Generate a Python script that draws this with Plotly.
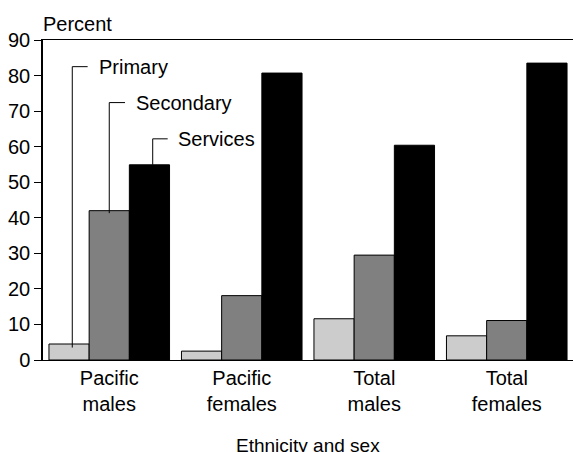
import plotly.graph_objects as go

# Share of employed people by industry sector
categories = ["Pacific<br>males", "Pacific<br>females", "Total<br>males", "Total<br>females"]
primary = [4.5, 2.5, 11.6, 6.8]
secondary = [42.0, 18.1, 29.5, 11.1]
services = [54.9, 80.7, 60.4, 83.5]
y_ticks = [0, 10, 20, 30, 40, 50, 60, 70, 80, 90]

FONT = "Liberation Sans, Arial, sans-serif"
xpos = list(range(len(categories)))

fig = go.Figure()
for name, vals, colour in [("Primary", primary, "#cccccc"),
                           ("Secondary", secondary, "#808080"),
                           ("Services", services, "#000000")]:
    fig.add_trace(go.Bar(x=xpos, y=vals, name=name,
                         marker=dict(color=colour, line=dict(color="#000000", width=1))))

# Leader lines labelling each series in the first group
callouts = [
    # (label, x of vertical leg, x end of horizontal leg, x of text, y bottom, y elbow)
    ("Primary", -0.279, -0.163, -0.095, primary[0] - 1.0, 82.5),
    ("Secondary", 0.0, 0.119, 0.189, secondary[0] - 0.7, 72.4),
    ("Services", 0.328, 0.441, 0.504, services[0], 62.2),
]
for label, xv, xh, xt, yb, ye in callouts:
    fig.add_shape(type="path", xref="x", yref="y",
                  path=f"M {xv},{yb} L {xv},{ye} L {xh},{ye}",
                  line=dict(color="#000000", width=1))
    fig.add_annotation(x=xt, y=ye, xref="x", yref="y", text=label, showarrow=False,
                       xanchor="left", yanchor="middle",
                       font=dict(family=FONT, size=20, color="#000000"))

fig.add_annotation(x=0, y=1.0, xref="paper", yref="paper", text="Percent", showarrow=False,
                   xanchor="left", yanchor="bottom", yshift=3, xshift=-2,
                   font=dict(family=FONT, size=20, color="#000000"))
fig.add_annotation(x=0.5, y=-0.268, xref="paper", yref="paper", text="Ethnicity and sex",
                   showarrow=False, xanchor="center", yanchor="middle",
                   font=dict(family=FONT, size=19, color="#000000"))

fig.update_layout(
    width=573, height=452,
    margin=dict(l=43, r=0, t=40, b=92),
    paper_bgcolor="white", plot_bgcolor="white",
    barmode="group", bargap=0.09, bargroupgap=0,
    showlegend=False,
    font=dict(family=FONT, size=20, color="#000000"),
)
fig.update_xaxes(
    tickmode="array", tickvals=xpos, ticktext=categories,
    range=[-0.5, 3.5], showline=True, mirror=True, linecolor="#000000", linewidth=1,
    ticks="", showgrid=False, zeroline=False,
    tickfont=dict(family=FONT, size=20, color="#000000"),
)
fig.update_yaxes(
    range=[0, 90], tickmode="array", tickvals=y_ticks,
    showline=True, linecolor="#000000", linewidth=1.5,
    ticks="outside", ticklen=7, tickcolor="#000000", tickwidth=1,
    showgrid=False, zeroline=False,
    tickfont=dict(family=FONT, size=20, color="#000000"),
)

fig.write_html("out.html")
